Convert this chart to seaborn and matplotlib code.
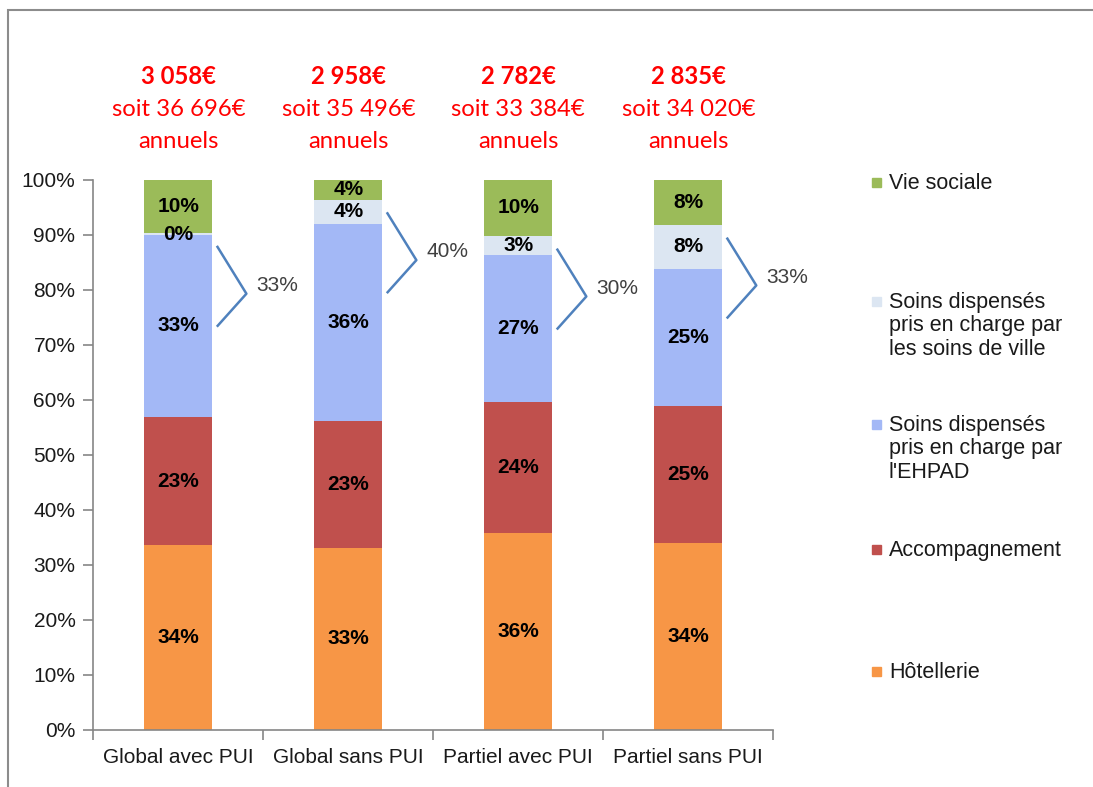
import numpy as np
import pandas as pd
import matplotlib
matplotlib.use("Agg")
import matplotlib.pyplot as plt
import seaborn as sns
from matplotlib.patches import Rectangle

# Données (parts en %)
categories = ["Global avec PUI", "Global sans PUI", "Partiel avec PUI", "Partiel sans PUI"]
hotellerie = [33.6, 33.1, 35.8, 33.9]
accompagnement = [23.3, 23.1, 23.9, 24.9]
soins_ehpad = [33.1, 35.8, 26.7, 25.0]
soins_ville = [0.3, 4.4, 3.4, 8.0]
vie_sociale = [9.7, 3.6, 10.2, 8.2]

cout_mensuel = ["3 058€", "2 958€", "2 782€", "2 835€"]
cout_annuel = ["36 696€", "35 496€", "33 384€", "34 020€"]

series = ["Hôtellerie", "Accompagnement",
          "Soins dispensés\npris en charge par\nl'EHPAD",
          "Soins dispensés\npris en charge par\nles soins de ville",
          "Vie sociale"]
couleurs = ["#F79646", "#C0504D", "#A3B8F6", "#DCE6F2", "#9BBB59"]

df = pd.DataFrame({
    "categorie": categories,
    series[0]: hotellerie,
    series[1]: accompagnement,
    series[2]: soins_ehpad,
    series[3]: soins_ville,
    series[4]: vie_sociale,
})

sns.set_style("white")
plt.rcParams["font.family"] = ["Liberation Sans", "DejaVu Sans"]

fig = plt.figure(figsize=(10.93, 7.87), dpi=100)
ax = fig.add_axes([0.0855, 0.0725, 0.622, 0.699])

# barres empilées : cumul dessiné du plus grand au plus petit
cumul = df[series].cumsum(axis=1)
for i in range(len(series) - 1, -1, -1):
    sns.barplot(x=df["categorie"], y=cumul[series[i]], color=couleurs[i],
                width=0.4, saturation=1, ax=ax, edgecolor="none")

# étiquettes dans les segments
for j in range(len(categories)):
    bas = 0
    for s in series:
        v = df[s][j]
        ax.text(j, bas + v / 2, f"{round(v):.0f}%", ha="center", va="center",
                fontsize=15, fontweight="bold", color="black")
        bas += v

# accolades des soins (EHPAD + ville)
for j in range(len(categories)):
    haut = cumul[series[3]][j]
    total_soins = soins_ehpad[j] + soins_ville[j]
    x0 = j + 0.226
    x1 = j + 0.40
    ax.plot([x0, x1, x0], [haut - 2.3, haut - 11, haut - 17],
            color="#4F81BD", lw=1.8, clip_on=False, solid_capstyle="butt")
    ax.text(j + 0.46, haut - 9.5, f"{round(total_soins):.0f}%", ha="left",
            va="center", fontsize=15, color="#404040")

# coût au-dessus des barres
for j in range(len(categories)):
    ax.text(j, 118.7, cout_mensuel[j], ha="center", va="center", fontsize=17.2,
            fontweight="bold", color="#FF0000", family=["Lato", "DejaVu Sans"],
            clip_on=False)
    ax.text(j, 112.8, "soit " + cout_annuel[j], ha="center", va="center",
            fontsize=17.2, color="#FF0000", family=["Lato", "DejaVu Sans"],
            clip_on=False)
    ax.text(j, 107.0, "annuels", ha="center", va="center", fontsize=17.2,
            color="#FF0000", family=["Lato", "DejaVu Sans"], clip_on=False)

ax.set_xlim(-0.5, 3.5)
ax.set_ylim(0, 100)
ax.set_yticks(np.arange(0, 101, 10))
ax.set_yticklabels([f"{t}%" for t in range(0, 101, 10)])
ax.set_xlabel("")
ax.set_ylabel("")
ax.set_xticks(range(len(categories)))
ax.set_xticklabels(categories)
ax.set_xticks(np.arange(-0.5, 4, 1), minor=True)
ax.tick_params(axis="x", which="major", bottom=False, length=0, labelsize=15,
               pad=13, labelcolor="#1a1a1a")
ax.tick_params(axis="x", which="minor", bottom=True, length=7, width=1.2,
               color="#868686", direction="out")
ax.tick_params(axis="y", left=True, length=7, width=1.2, color="#868686",
               labelsize=15, labelcolor="#1a1a1a", direction="out", pad=6)
sns.despine(ax=ax)
for sp in ["left", "bottom"]:
    ax.spines[sp].set_color("#868686")
    ax.spines[sp].set_linewidth(1.2)

# légende
tops = [173, 292, 415, 540, 662]
for k, i in enumerate(range(len(series) - 1, -1, -1)):
    y = 1 - tops[k] / 787
    fig.patches.append(Rectangle((872 / 1093, y - 14 / 787), 9 / 1093, 9 / 787,
                                 transform=fig.transFigure, color=couleurs[i]))
    fig.text(889 / 1093, y, series[i], ha="left", va="top", fontsize=15.5,
             color="#1a1a1a", linespacing=1.15)

# cadre
fig.patches.append(Rectangle((8 / 1093, -0.05), 1.2, 1 - 10 / 787 + 0.05,
                             transform=fig.transFigure, fill=False,
                             edgecolor="#8C8C8C", lw=1.5))

fig.savefig("out.png", dpi=100)
